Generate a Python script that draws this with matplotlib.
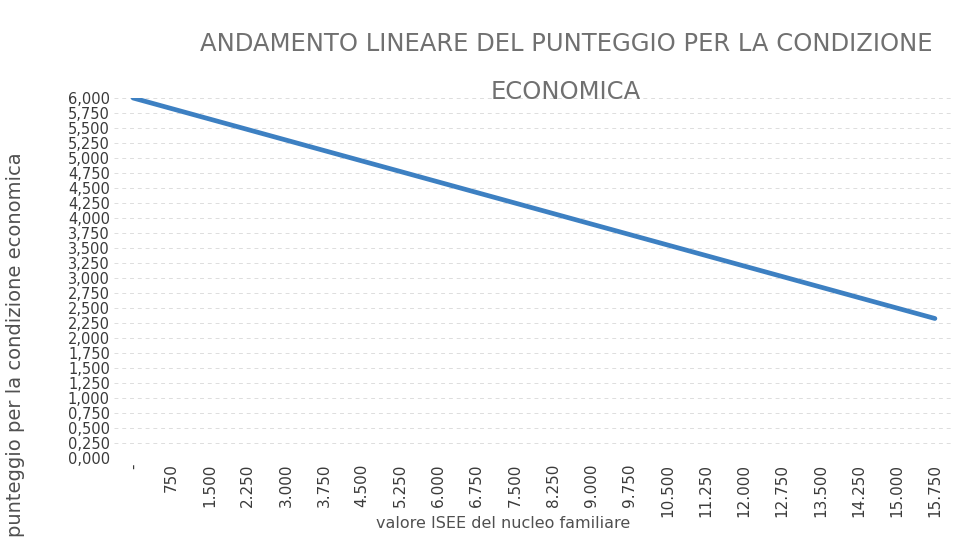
import matplotlib

matplotlib.use("Agg")
import matplotlib.pyplot as plt
import numpy as np

# ISEE categories (x) and score values (y)
isee_labels = ["-", "750", "1.500", "2.250", "3.000", "3.750", "4.500", "5.250",
               "6.000", "6.750", "7.500", "8.250", "9.000", "9.750", "10.500",
               "11.250", "12.000", "12.750", "13.500", "14.250", "15.000", "15.750"]
score = [6.000, 5.825, 5.650, 5.475, 5.300, 5.125, 4.950, 4.775, 4.600, 4.425,
         4.250, 4.075, 3.900, 3.725, 3.550, 3.375, 3.200, 3.025, 2.850, 2.675,
         2.500, 2.325]
y_ticks = [i * 0.25 for i in range(25)]

TITLE_1 = "ANDAMENTO LINEARE DEL PUNTEGGIO PER LA CONDIZIONE"
TITLE_2 = "ECONOMICA"
XLABEL = "valore ISEE del nucleo familiare"
YLABEL = "punteggio per la condizione economica"

fig = plt.figure(figsize=(9.76, 5.46), dpi=100)
ax = fig.add_axes([114 / 976, 1 - 458 / 546, (954 - 114) / 976, 360 / 546])

x = np.arange(len(isee_labels))
ax.plot(x, score, color="#3d80c2", linewidth=3.4, solid_capstyle="round")

ax.set_xlim(-0.5, len(isee_labels) - 0.5)
ax.set_ylim(0, 6)
ax.set_yticks(y_ticks)
ax.set_yticklabels([f"{v:.3f}".replace(".", ",") for v in y_ticks],
                   fontsize=10.5, color="#3a3a3a")
ax.set_xticks(x)
ax.set_xticklabels(isee_labels, rotation=90, fontsize=11, color="#3a3a3a")
ax.tick_params(length=0, pad=4)
ax.tick_params(axis="y", pad=3)
for sp in ax.spines.values():
    sp.set_visible(False)
ax.yaxis.grid(True, color="#dddddd", linestyle=(0, (4, 4)), linewidth=0.7)
ax.set_axisbelow(True)

fig.text(566 / 976, 1 - 44 / 546, TITLE_1, ha="center", va="center",
         fontsize=17.5, color="#707070")
fig.text(566 / 976, 1 - 92 / 546, TITLE_2, ha="center", va="center",
         fontsize=17.5, color="#707070")
fig.text(503 / 976, 1 - 523 / 546, XLABEL, ha="center", va="center",
         fontsize=11.5, color="#505050")
fig.text(16 / 976, 1 - 345 / 546, YLABEL, ha="center", va="center",
         rotation=90, fontsize=14, color="#505050")

fig.savefig("out.png", dpi=100, facecolor="white")
